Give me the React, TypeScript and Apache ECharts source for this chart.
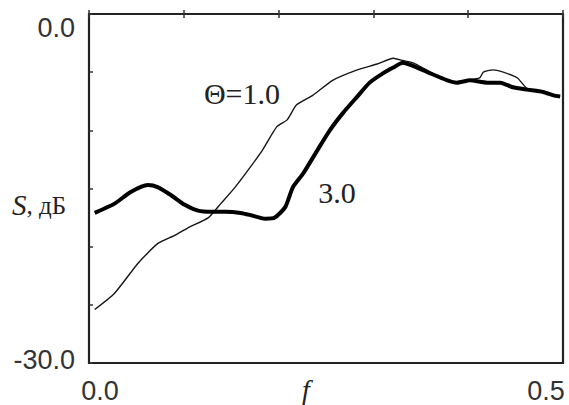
import React, { useEffect, useRef } from "react";
import * as echarts from "echarts";

// Θ = 1.0 curve (thin)
const thinF = [0.006, 0.027, 0.052, 0.073, 0.091, 0.104, 0.126, 0.139, 0.154, 0.168, 0.183, 0.198, 0.209, 0.219, 0.236, 0.257, 0.283, 0.304, 0.321, 0.331, 0.342, 0.360, 0.384, 0.399, 0.412, 0.416, 0.426, 0.437, 0.452, 0.462, 0.479, 0.490, 0.497];
const thinS = [-25.4, -24.0, -21.4, -19.7, -19.0, -18.4, -17.5, -16.3, -14.9, -13.4, -11.7, -9.7, -9.1, -7.8, -7.0, -5.7, -4.8, -4.3, -3.8, -4.0, -4.2, -5.0, -5.9, -5.7, -5.5, -5.0, -4.8, -5.0, -5.5, -6.4, -6.7, -7.0, -7.1];

// Θ = 3.0 curve (thick)
const thickF = [0.006, 0.027, 0.044, 0.062, 0.073, 0.087, 0.101, 0.115, 0.129, 0.144, 0.160, 0.171, 0.186, 0.196, 0.207, 0.215, 0.226, 0.241, 0.254, 0.268, 0.283, 0.296, 0.310, 0.321, 0.331, 0.346, 0.360, 0.378, 0.388, 0.402, 0.420, 0.434, 0.447, 0.462, 0.479, 0.490, 0.497];
const thickS = [-17.1, -16.3, -15.3, -14.7, -14.9, -15.6, -16.4, -16.9, -17.0, -17.0, -17.1, -17.3, -17.6, -17.5, -16.6, -14.9, -13.7, -11.7, -10.0, -8.5, -7.1, -5.9, -5.1, -4.6, -4.2, -4.6, -5.1, -5.7, -5.9, -5.7, -5.9, -5.9, -6.3, -6.5, -6.7, -7.0, -7.1];

const xMin = 0;
const xMax = 0.5;
const xStep = 0.1;
const yMin = -30;
const yMax = 0;
const yStep = 5;
const xTickLabels = ["0.0", "0.5"];
const yTickLabels = ["-30.0", "0.0"];
const annotations = ["Θ=1.0", "3.0"];

const ink = "#161616";

export default function App() {
  const ref = useRef<HTMLDivElement>(null);
  useEffect(() => {
    if (!ref.current) return;
    const chart = echarts.init(ref.current, undefined, { renderer: "svg" });
    const toPairs = (fs: number[], ss: number[]) => fs.map((f, i) => [f, ss[i]]);
    chart.setOption({
      animation: false,
      backgroundColor: "#ffffff",
      grid: {
        left: 89,
        top: 14,
        right: 6,
        bottom: 42,
        show: true,
        borderColor: "#222",
        borderWidth: 2.2,
      },
      xAxis: [
        {
          type: "value",
          min: xMin,
          max: xMax,
          interval: xStep,
          axisLine: { show: false },
          splitLine: { show: false },
          axisTick: { show: true, inside: true, length: 4, lineStyle: { color: "#333", width: 1.5 } },
          axisLabel: {
            show: true,
            showMinLabel: true,
            showMaxLabel: true,
            margin: 14,
            fontFamily: "Liberation Sans",
            fontSize: 27,
            color: "#333",
            formatter: (v: number) => {
              if (Math.abs(v - xMin) < 1e-9) return "{l|" + xTickLabels[0] + "}";
              if (Math.abs(v - xMax) < 1e-9) return "{r|" + xTickLabels[1] + "}";
              return "";
            },
            rich: {
              l: { fontFamily: "Liberation Sans", fontSize: 27, color: "#333", padding: [0, 0, 0, 22] },
              r: { fontFamily: "Liberation Sans", fontSize: 27, color: "#333", padding: [0, 34, 0, 0] },
            },
          },
        },
        {
          type: "value",
          position: "top",
          min: xMin,
          max: xMax,
          interval: xStep,
          axisLine: { show: false },
          splitLine: { show: false },
          axisLabel: { show: false },
          axisTick: { show: true, inside: true, length: 4, lineStyle: { color: "#333", width: 1.5 } },
        },
      ],
      yAxis: {
        type: "value",
        min: yMin,
        max: yMax,
        interval: yStep,
        axisLine: { show: false },
        splitLine: { show: false },
        axisTick: { show: true, inside: true, length: 4, lineStyle: { color: "#333", width: 1.5 } },
        axisLabel: {
          show: true,
          showMinLabel: true,
          showMaxLabel: true,
          margin: 14,
          fontFamily: "Liberation Sans",
          fontSize: 27,
          color: "#333",
          formatter: (v: number) => {
            if (Math.abs(v - yMax) < 1e-9) return "{t|" + yTickLabels[1] + "}";
            if (Math.abs(v - yMin) < 1e-9) return "{b|" + yTickLabels[0] + "}";
            return "";
          },
          rich: {
            t: { fontFamily: "Liberation Sans", fontSize: 27, color: "#333", padding: [28, 0, 0, 0] },
            b: { fontFamily: "Liberation Sans", fontSize: 27, color: "#333", padding: [0, 0, 6, 0] },
          },
        },
      },
      series: [
        {
          name: "Θ=1.0",
          type: "line",
          data: toPairs(thinF, thinS),
          showSymbol: false,
          smooth: 0.2,
          lineStyle: { color: ink, width: 1.4 },
        },
        {
          name: "3.0",
          type: "line",
          data: toPairs(thickF, thickS),
          showSymbol: false,
          smooth: 0.2,
          lineStyle: { color: "#000", width: 4 },
        },
      ],
      graphic: [
        {
          type: "text",
          x: 242,
          y: 93,
          style: {
            text: annotations[0],
            font: "30px 'Liberation Serif'",
            fill: "#222",
            align: "center",
            verticalAlign: "middle",
          },
        },
        {
          type: "text",
          x: 337,
          y: 192,
          style: {
            text: annotations[1],
            font: "30px 'Liberation Serif'",
            fill: "#222",
            align: "center",
            verticalAlign: "middle",
          },
        },
        {
          type: "text",
          x: 12,
          y: 205,
          style: {
            text: "{s|S}{n|, дБ}",
            verticalAlign: "middle",
            align: "left",
            rich: {
              s: { fontFamily: "Liberation Serif", fontStyle: "italic", fontSize: 29, fill: "#222" },
              n: { fontFamily: "Liberation Serif", fontSize: 25, fill: "#222" },
            },
          },
        },
        {
          type: "text",
          x: 306,
          y: 389,
          style: {
            text: "f",
            font: "italic 28px 'Liberation Serif'",
            fill: "#222",
            align: "center",
            verticalAlign: "middle",
          },
        },
      ],
    });
    return () => chart.dispose();
  }, []);
  return (
    <div
      ref={ref}
      style={{ position: "fixed", left: 0, top: 0, width: 569, height: 405, background: "#fff" }}
    />
  );
}
